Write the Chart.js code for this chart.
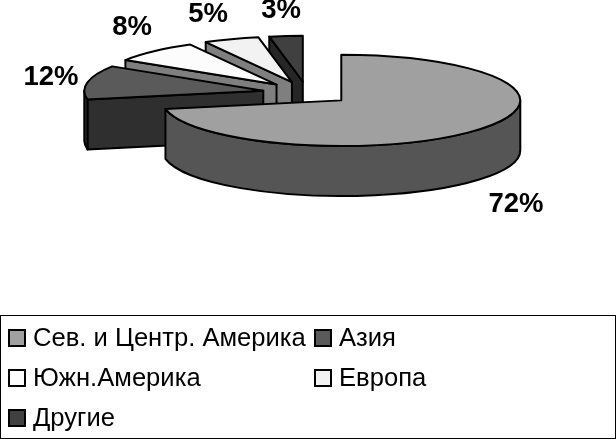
<!DOCTYPE html>
<html>
<head>
<meta charset="utf-8">
<style>
  html, body { margin: 0; padding: 0; background: #fff; }
  #wrap { position: relative; width: 616px; height: 439px; overflow: hidden; }
  #legend {
    position: absolute; left: 0; top: 315px; width: 614px; height: 122px;
    border: 1px solid #000; font: 25.6px "Liberation Sans", Arial, sans-serif; color: #000;
  }
  .item { position: absolute; height: 40px; line-height: 40px; white-space: nowrap; }
  .box { position: absolute; left: 0; top: 12px; width: 14px; height: 14px; border: 2px solid #000; }
  .item span { position: absolute; left: 25px; top: 0; }
</style>
</head>
<body>
<div id="wrap">
  <canvas id="chart" width="616" height="439"></canvas>
  <div id="legend"></div>
</div>
<script src="https://cdn.jsdelivr.net/npm/chart.js@4"></script>
<script>
'use strict';

const categories = ['Сев. и Центр. Америка', 'Азия', 'Южн.Америка', 'Европа', 'Другие'];
const shares = [72, 12, 8, 5, 3];

const topColors = ['#a0a0a0', '#5a5a5a', '#fcfcfc', '#f2f2f2', '#404040'];
const wallColors = ['#555555', '#2f2f2f', '#7f7f7f', '#7f7f7f', '#262626'];

// where the percent labels sit, [x, y] of the text centre
const labelSpots = [[516, 204], [51, 77], [132, 27], [208, 14], [281, 10]];
const legendSpots = [[7, 1], [313, 1], [7, 41], [313, 41], [7, 81]];

const TILT = 0.255;
const OFFSET_TILT = 0.26;
const DEPTH = 50;

function drawSlice(ctx, arc, wallColor, isMain) {
  const { startAngle, endAngle, outerRadius: r } = arc;
  const mid = (startAngle + endAngle) / 2;
  const x = arc.x + Math.cos(mid) * arc.options.offset;
  const y = arc.y + Math.sin(mid) * arc.options.offset * OFFSET_TILT;
  const ry = r * TILT;
  const sx = x + Math.cos(startAngle) * r;
  const sy = y + Math.sin(startAngle) * ry;

  ctx.lineWidth = arc.options.borderWidth;
  ctx.strokeStyle = arc.options.borderColor;
  ctx.lineJoin = 'round';

  // cut face, only the back slices show it
  if (!isMain) {
    ctx.beginPath();
    ctx.moveTo(x, y);
    ctx.lineTo(sx, sy);
    ctx.lineTo(sx, sy + DEPTH);
    ctx.lineTo(x, y + DEPTH);
    ctx.closePath();
    ctx.fillStyle = wallColor;
    ctx.fill();
    ctx.stroke();
  }

  // outer rim, front half of the ellipse
  const a = Math.max(startAngle, 0);
  const b = Math.min(endAngle, Math.PI);
  if (b > a) {
    ctx.beginPath();
    ctx.ellipse(x, y, r, ry, 0, a, b);
    ctx.lineTo(x + Math.cos(b) * r, y + Math.sin(b) * ry + DEPTH);
    ctx.ellipse(x, y + DEPTH, r, ry, 0, b, a, true);
    ctx.closePath();
    ctx.fillStyle = wallColor;
    ctx.fill();
    ctx.stroke();
  }

  // top
  ctx.beginPath();
  ctx.moveTo(x, y);
  ctx.ellipse(x, y, r, ry, 0, startAngle, endAngle);
  ctx.closePath();
  ctx.fillStyle = arc.options.backgroundColor;
  ctx.fill();
  ctx.stroke();
}

const pie3d = {
  id: 'pie3d',
  beforeDatasetDraw(chart) {
    const ctx = chart.ctx;
    const arcs = chart.getDatasetMeta(0).data;
    ctx.save();
    for (let i = arcs.length - 1; i >= 0; i--) {
      drawSlice(ctx, arcs[i], wallColors[i], i === 0);
    }
    ctx.fillStyle = '#000';
    ctx.font = 'bold 27.5px "Liberation Sans", Arial, sans-serif';
    ctx.textAlign = 'center';
    ctx.textBaseline = 'middle';
    shares.forEach((v, i) => {
      ctx.fillText(v + '%', labelSpots[i][0], labelSpots[i][1]);
    });
    ctx.restore();
    return false; // the flat pie is not wanted
  }
};

new Chart(document.getElementById('chart'), {
  type: 'pie',
  data: {
    labels: categories,
    datasets: [{
      data: shares,
      backgroundColor: topColors,
      borderColor: '#000',
      borderWidth: 2,
      offset: 44.5,
      radius: 179
    }]
  },
  options: {
    responsive: false,
    animation: false,
    devicePixelRatio: 1,
    layout: { padding: { right: 2, bottom: 253 } },
    plugins: { legend: { display: false }, tooltip: { enabled: false } }
  },
  plugins: [pie3d]
});

const legendEl = document.getElementById('legend');
categories.forEach((name, i) => {
  const item = document.createElement('div');
  item.className = 'item';
  item.style.left = legendSpots[i][0] + 'px';
  item.style.top = legendSpots[i][1] + 'px';
  const box = document.createElement('div');
  box.className = 'box';
  box.style.background = topColors[i];
  const text = document.createElement('span');
  text.textContent = name;
  item.append(box, text);
  legendEl.appendChild(item);
});
</script>
</body>
</html>
